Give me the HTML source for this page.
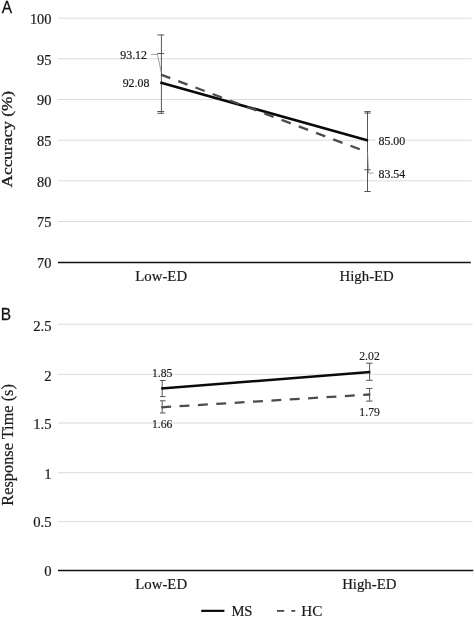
<!DOCTYPE html>
<html lang="en"><head><meta charset="utf-8"><title>Figure</title>
<style>
html,body{margin:0;padding:0;background:#fff;}
body{width:475px;height:618px;overflow:hidden;}
svg{display:block;}
text{font-family:"Liberation Serif","Times New Roman",serif;fill:#1a1a1a;stroke:#1a1a1a;stroke-width:0.2px;}
.sans{font-family:"Liberation Sans",Arial,sans-serif;fill:#111;stroke:#111;stroke-width:0.25px;}
.tick{font-size:14.4px;text-anchor:end;}
.cat{font-size:14.8px;text-anchor:middle;}
.dl{font-size:11.9px;stroke-width:0.2px;}
.dlb{font-size:11.7px;stroke-width:0.15px;}
.ax{font-size:16px;text-anchor:middle;}
.grid{stroke:#dcdcdc;stroke-width:1;}
.axis{stroke:#111;stroke-width:1.5;}
.eb{stroke:#484848;stroke-width:0.92;fill:none;}
.ms{stroke:#0a0a0a;stroke-width:2.6;fill:none;}
.hc{stroke:#4c4c4c;stroke-width:2.3;fill:none;stroke-dasharray:9.9 8.5;}
.lead{stroke:#858585;stroke-width:0.8;fill:none;}
</style></head><body>
<svg width="475" height="618" viewBox="0 0 475 618">
<rect width="475" height="618" fill="#fff"/>

<line class="grid" x1="58.0" x2="471.5" y1="18.2" y2="18.2"/>
<line class="grid" x1="58.0" x2="471.5" y1="58.8" y2="58.8"/>
<line class="grid" x1="58.0" x2="471.5" y1="99.5" y2="99.5"/>
<line class="grid" x1="58.0" x2="471.5" y1="140.2" y2="140.2"/>
<line class="grid" x1="58.0" x2="471.5" y1="180.8" y2="180.8"/>
<line class="grid" x1="58.0" x2="471.5" y1="221.5" y2="221.5"/>
<text class="tick" x="51.5" y="23.9">100</text>
<text class="tick" x="51.5" y="64.5">95</text>
<text class="tick" x="51.5" y="105.2">90</text>
<text class="tick" x="51.5" y="145.8">85</text>
<text class="tick" x="51.5" y="186.5">80</text>
<text class="tick" x="51.5" y="227.2">75</text>
<text class="tick" x="51.5" y="267.8">70</text>
<line class="axis" x1="58.0" x2="470.8" y1="262.4" y2="262.4"/>
<line class="grid" style="stroke:#e3e3e3;stroke-width:1.3" x1="58.0" x2="472.7" y1="324.3" y2="324.3"/>
<line class="grid" style="stroke:#e3e3e3;stroke-width:1.3" x1="58.0" x2="472.7" y1="374.4" y2="374.4"/>
<line class="grid" style="stroke:#e3e3e3;stroke-width:1.3" x1="58.0" x2="472.7" y1="423.0" y2="423.0"/>
<line class="grid" style="stroke:#e3e3e3;stroke-width:1.3" x1="58.0" x2="472.7" y1="472.6" y2="472.6"/>
<line class="grid" style="stroke:#e3e3e3;stroke-width:1.3" x1="58.0" x2="472.7" y1="521.7" y2="521.7"/>
<text class="tick" style="font-size:14.7px" x="51.6" y="330.7">2.5</text>
<text class="tick" style="font-size:14.7px" x="51.6" y="380.7">2</text>
<text class="tick" style="font-size:14.7px" x="51.6" y="429.3">1.5</text>
<text class="tick" style="font-size:14.7px" x="51.6" y="478.5">1</text>
<text class="tick" style="font-size:14.7px" x="51.6" y="526.6">0.5</text>
<text class="tick" style="font-size:14.7px" x="51.6" y="575.5">0</text>
<line class="axis" x1="58.0" x2="473.3" y1="570.5" y2="570.5"/>
<text class="sans" transform="translate(1.7,13.3) scale(1,1.06)" font-size="15.5">A</text>
<text class="sans" transform="translate(0.7,320.4) scale(1,1.08)" font-size="15.5">B</text>
<text class="ax" style="font-size:14.6px;stroke:#1a1a1a;stroke-width:0.3" transform="translate(11.6,139.2) rotate(-90)" textLength="96.6" lengthAdjust="spacingAndGlyphs">Accuracy (%)</text>
<text class="ax" transform="translate(13.1,444.9) rotate(-90)" textLength="121.6" lengthAdjust="spacingAndGlyphs">Response Time (s)</text>
<text class="cat" x="161.2" y="281.0">Low-ED</text>
<text class="cat" x="366.7" y="281.0">High-ED</text>
<text class="cat" x="161.2" y="589.2">Low-ED</text>
<text class="cat" x="369.3" y="589.2">High-ED</text>
<path class="eb" d="M161.4 34.95V113.30M157.3 34.95H164.2M157.3 53.50H164.2M157.3 111.50H164.2M157.3 113.30H164.2"/>
<path class="eb" d="M367.5 111.60V191.50M364.3 111.60H370.7M364.3 113.10H370.7M364.3 169.70H370.7M364.3 191.50H370.7"/>
<line class="ms" x1="160.3" y1="82.6" x2="368.0" y2="140.5"/>
<line class="hc" x1="161.0" y1="74.6" x2="367.5" y2="152.2"/>
<path class="lead" d="M151 54.4H157.4L161.2 72"/>
<path class="lead" d="M367.5 151.5L368.6 173.1H373.5"/>
<text class="dl" x="147" y="58.9" text-anchor="end">93.12</text>
<text class="dl" x="149.4" y="87.4" text-anchor="end">92.08</text>
<rect x="376" y="135" width="30" height="12" fill="#fff"/>
<text class="dl" x="378.5" y="144.6">85.00</text>
<text class="dl" x="378.5" y="177.6">83.54</text>
<path class="eb" d="M162.2 380.50V396.60M159.9 380.50H165.6M159.9 396.60H165.6"/>
<path class="eb" d="M162.2 400.80V413.00M159.9 400.80H165.6M159.9 413.00H165.6"/>
<path class="eb" d="M369.6 363.20V380.30M366.1 363.20H372.6M366.1 380.30H372.6"/>
<path class="eb" d="M369.6 388.40V401.10M366.1 388.40H372.6M366.1 401.10H372.6"/>
<line class="hc" x1="161.2" y1="407.3" x2="370.3" y2="394.5"/>
<line class="ms" style="stroke-width:2.5" x1="161.2" y1="388.6" x2="370.3" y2="371.9"/>
<text class="dlb" x="162.2" y="377.0" text-anchor="middle">1.85</text>
<text class="dlb" x="162.2" y="427.8" text-anchor="middle">1.66</text>
<text class="dlb" x="369.5" y="360.2" text-anchor="middle">2.02</text>
<text class="dlb" x="369.6" y="415.6" text-anchor="middle">1.79</text>
<line class="ms" style="stroke-width:2.2" x1="201.2" x2="224.4" y1="610.85" y2="610.85"/>
<path d="M277 610.9H284.2M291.4 610.9H295.2" stroke="#444" stroke-width="1.9" fill="none"/>
<text x="231.4" y="616.1" font-size="14.6">MS</text>
<text x="301.3" y="616.1" font-size="15.2">HC</text>
</svg>
</body></html>
